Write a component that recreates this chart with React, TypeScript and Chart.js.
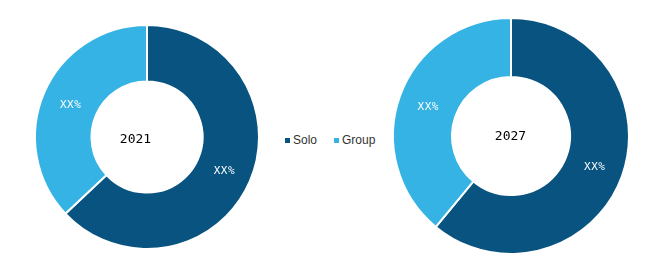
import React, { useEffect, useRef } from "react";
import { Chart, registerables } from "chart.js";

Chart.register(...registerables);

const categories = ["Solo", "Group"];
const years = ["2021", "2027"];
const values2021 = [63, 37];
const values2027 = [61, 39];
const sliceLabels2021 = ["XX%", "XX%"];
const sliceLabels2027 = ["XX%", "XX%"];
const colors = ["#08537F", "#35B3E4"];

type DonutProps = {
  values: number[];
  labels: string[];
  title: string;
  size: number;
  radius: number;
  cutout: string;
  titleDx: number;
  titleDy: number;
};

function Donut({ values, labels, title, size, radius, cutout, titleDx, titleDy }: DonutProps) {
  const ref = useRef<HTMLCanvasElement | null>(null);
  useEffect(() => {
    if (!ref.current) return;
    const labelPlugin = {
      id: "labelsPlugin",
      afterDatasetsDraw(chart: any) {
        const ctx = chart.ctx;
        const meta = chart.getDatasetMeta(0);
        ctx.save();
        ctx.fillStyle = "#ffffff";
        ctx.font = "11px 'DejaVu Sans Mono', monospace";
        ctx.letterSpacing = "0.5px";
        ctx.textAlign = "center";
        ctx.textBaseline = "middle";
        meta.data.forEach((arc: any, i: number) => {
          const p = arc.tooltipPosition();
          ctx.fillText(labels[i], p.x + 0.5, p.y + 1);
        });
        const a = meta.data[0];
        ctx.fillStyle = "#000000";
        ctx.font = "13px 'DejaVu Sans Mono', monospace";
        ctx.letterSpacing = "0px";
        ctx.fillText(title, a.x + titleDx, a.y + titleDy);
        ctx.restore();
      },
    };
    const chart = new Chart(ref.current, {
      type: "doughnut",
      data: {
        labels: categories,
        datasets: [
          {
            data: values,
            backgroundColor: colors,
            borderColor: "#ffffff",
            borderWidth: 2,
            hoverOffset: 0,
          },
        ],
      },
      options: {
        animation: false,
        responsive: false,
        maintainAspectRatio: false,
        radius: radius,
        cutout: cutout,
        plugins: { legend: { display: false }, tooltip: { enabled: false } },
        layout: { padding: 0 },
      } as any,
      plugins: [labelPlugin],
    });
    return () => chart.destroy();
  }, []);
  return <canvas ref={ref} width={size} height={size} style={{ width: size, height: size, display: "block" }} />;
}

export default function App() {
  return (
    <div style={{ position: "absolute", left: 0, top: 0, width: 649, height: 271, background: "#fff", overflow: "hidden" }}>
      <div style={{ position: "absolute", left: 147 - 120, top: 137 - 120 }}>
        <Donut values={values2021} labels={sliceLabels2021} title={years[0]} size={240} radius={112} cutout="49.6%" titleDx={-11.5} titleDy={2.5} />
      </div>
      <div style={{ position: "absolute", left: 511 - 125, top: 136 - 125 }}>
        <Donut values={values2027} labels={sliceLabels2027} title={years[1]} size={250} radius={118} cutout="50%" titleDx={-0.5} titleDy={0.5} />
      </div>
      <div style={{ position: "absolute", left: 285, top: 131, height: 18, display: "flex", alignItems: "center", fontFamily: "'Liberation Sans', Arial, sans-serif", fontSize: 12, color: "#333" }}>
        {categories.map((c, i) => (
          <div key={c} style={{ display: "flex", alignItems: "center", marginRight: i === 0 ? 17 : 0 }}>
            <span style={{ display: "inline-block", width: 5, height: 5, background: colors[i], marginRight: 3 }} />
            <span>{c}</span>
          </div>
        ))}
      </div>
    </div>
  );
}
